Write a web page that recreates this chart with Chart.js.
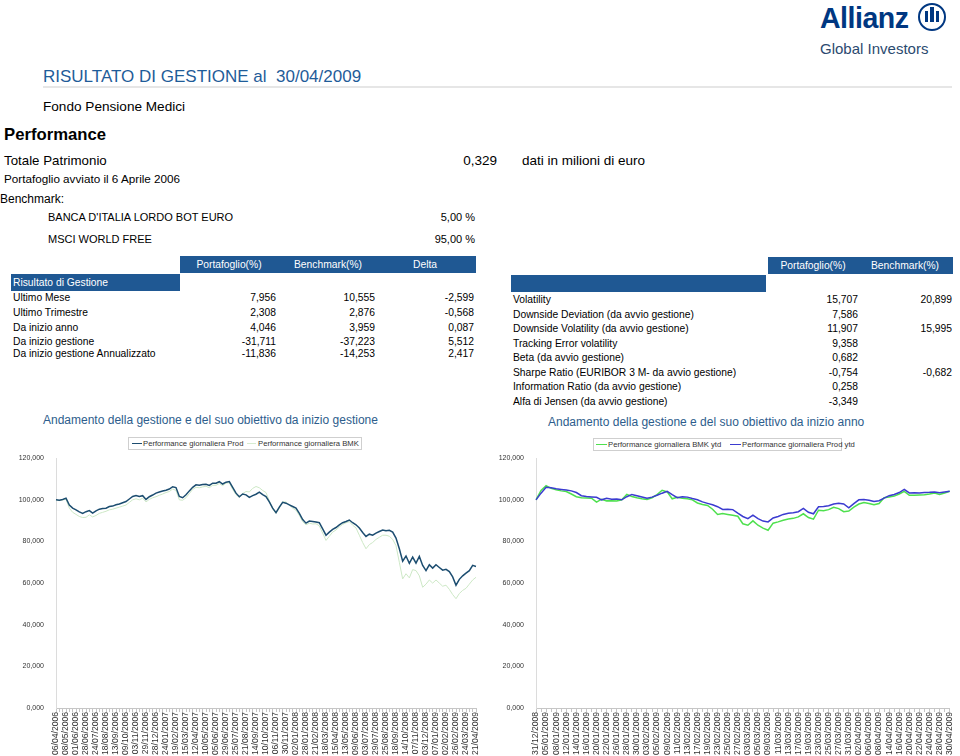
<!DOCTYPE html>
<html>
<head>
<meta charset="utf-8">
<script src="https://cdn.jsdelivr.net/npm/chart.js@4.4.1/dist/chart.umd.min.js"></script>
<style>
  html, body { margin: 0; padding: 0; background: #fff; }
  body { width: 960px; height: 756px; position: relative; overflow: hidden; font-family: "Liberation Sans", Arial, sans-serif; color: #000; }
  .t { position: absolute; white-space: nowrap; transform: translateY(-50%); line-height: 1.2; }
  .r { text-align: right; }
  .bar { position: absolute; background: #1f5893; }
  .w { color: #fff; }
  .tab { font-size: 10.3px; }
  .ttl { font-size: 12px; color: #2d5d8c; }
  .legend { position: absolute; border: 1px solid #cfcfcf; height: 11px; font-size: 7.7px; color: #333; }
  .legend span { position: absolute; top: 0; line-height: 11px; white-space: nowrap; }
  .legend i { position: absolute; top: 5px; height: 0; border-top: 1.5px solid; }
</style>
</head>
<body>

<!-- logo -->
<div class="t" style="left:820px;top:18px;font-size:30px;font-weight:bold;color:#003781;transform:translateY(-50%) scaleX(0.95);transform-origin:left center;letter-spacing:-0.5px">Allianz</div>
<div style="position:absolute;left:918px;top:3px;width:24px;height:24px;border:2.5px solid #003781;border-radius:50%"></div>
<div style="position:absolute;left:925px;top:11px;width:3px;height:11px;background:#003781"></div>
<div style="position:absolute;left:930px;top:7px;width:4px;height:15px;background:#003781"></div>
<div style="position:absolute;left:936px;top:11px;width:3px;height:11px;background:#003781"></div>
<div class="t" style="left:820px;top:49px;font-size:15px;color:#2b4a6f">Global Investors</div>

<!-- heading -->
<div class="t" style="left:43px;top:77px;font-size:17px;color:#1f5c99">RISULTATO DI GESTIONE al &nbsp;30/04/2009</div>
<div style="position:absolute;left:43px;top:86px;width:909px;height:2px;background:#e6e6e6"></div>
<div class="t" style="left:43px;top:107px;font-size:13.6px">Fondo Pensione Medici</div>
<div class="t" style="left:4px;top:135px;font-size:16.7px;font-weight:bold">Performance</div>
<div class="t" style="left:4px;top:161px;font-size:13.3px">Totale Patrimonio</div>
<div class="t r" style="right:463px;top:161px;font-size:13.5px">0,329</div>
<div class="t" style="left:522px;top:161px;font-size:13.5px">dati in milioni di euro</div>
<div class="t" style="left:4px;top:179px;font-size:11.7px">Portafoglio avviato il 6 Aprile 2006</div>
<div class="t" style="left:0px;top:199px;font-size:12px">Benchmark:</div>
<div class="t" style="left:48px;top:218px;font-size:11px">BANCA D'ITALIA LORDO BOT EURO</div>
<div class="t r" style="right:485px;top:218px;font-size:11px">5,00 %</div>
<div class="t" style="left:48px;top:240px;font-size:11px">MSCI WORLD FREE</div>
<div class="t r" style="right:485px;top:240px;font-size:11px">95,00 %</div>

<!-- left table -->
<div class="bar" style="left:180px;top:256px;width:296px;height:17px"></div>
<div class="t tab w" style="left:229px;top:265px;transform:translate(-50%,-50%)">Portafoglio(%)</div>
<div class="t tab w" style="left:328px;top:265px;transform:translate(-50%,-50%)">Benchmark(%)</div>
<div class="t tab w" style="left:425px;top:265px;transform:translate(-50%,-50%)">Delta</div>
<div class="bar" style="left:11px;top:274px;width:169px;height:17px"></div>
<div class="t tab w" style="left:13px;top:283px">Risultato di Gestione</div>

<div class="t tab" style="left:13px;top:298px">Ultimo Mese</div>
<div class="t tab r" style="right:684px;top:298px">7,956</div>
<div class="t tab r" style="right:585px;top:298px">10,555</div>
<div class="t tab r" style="right:486px;top:298px">-2,599</div>

<div class="t tab" style="left:13px;top:313px">Ultimo Trimestre</div>
<div class="t tab r" style="right:684px;top:313px">2,308</div>
<div class="t tab r" style="right:585px;top:313px">2,876</div>
<div class="t tab r" style="right:486px;top:313px">-0,568</div>

<div class="t tab" style="left:13px;top:328px">Da inizio anno</div>
<div class="t tab r" style="right:684px;top:328px">4,046</div>
<div class="t tab r" style="right:585px;top:328px">3,959</div>
<div class="t tab r" style="right:486px;top:328px">0,087</div>

<div class="t tab" style="left:13px;top:342px">Da inizio gestione</div>
<div class="t tab r" style="right:684px;top:342px">-31,711</div>
<div class="t tab r" style="right:585px;top:342px">-37,223</div>
<div class="t tab r" style="right:486px;top:342px">5,512</div>

<div class="t tab" style="left:13px;top:354px">Da inizio gestione Annualizzato</div>
<div class="t tab r" style="right:684px;top:354px">-11,836</div>
<div class="t tab r" style="right:585px;top:354px">-14,253</div>
<div class="t tab r" style="right:486px;top:354px">2,417</div>

<!-- right table -->
<div class="bar" style="left:768px;top:257px;width:185px;height:17px"></div>
<div class="t tab w" style="left:813px;top:266px;transform:translate(-50%,-50%)">Portafoglio(%)</div>
<div class="t tab w" style="left:905px;top:266px;transform:translate(-50%,-50%)">Benchmark(%)</div>
<div class="bar" style="left:511px;top:275px;width:255px;height:17px"></div>

<div class="t tab" style="left:513px;top:300px">Volatility</div>
<div class="t tab r" style="right:102px;top:300px">15,707</div>
<div class="t tab r" style="right:8px;top:300px">20,899</div>
<div class="t tab" style="left:513px;top:315px">Downside Deviation (da avvio gestione)</div>
<div class="t tab r" style="right:102px;top:315px">7,586</div>
<div class="t tab" style="left:513px;top:329px">Downside Volatility (da avvio gestione)</div>
<div class="t tab r" style="right:102px;top:329px">11,907</div>
<div class="t tab r" style="right:8px;top:329px">15,995</div>
<div class="t tab" style="left:513px;top:344px">Tracking Error volatility</div>
<div class="t tab r" style="right:102px;top:344px">9,358</div>
<div class="t tab" style="left:513px;top:358px">Beta (da avvio gestione)</div>
<div class="t tab r" style="right:102px;top:358px">0,682</div>
<div class="t tab" style="left:513px;top:373px">Sharpe Ratio (EURIBOR 3 M- da avvio gestione)</div>
<div class="t tab r" style="right:102px;top:373px">-0,754</div>
<div class="t tab r" style="right:8px;top:373px">-0,682</div>
<div class="t tab" style="left:513px;top:387px">Information Ratio (da avvio gestione)</div>
<div class="t tab r" style="right:102px;top:387px">0,258</div>
<div class="t tab" style="left:513px;top:402px">Alfa di Jensen (da avvio gestione)</div>
<div class="t tab r" style="right:102px;top:402px">-3,349</div>

<!-- chart titles and legends -->
<div class="t ttl" style="left:43px;top:420px">Andamento della gestione e del suo obiettivo da inizio gestione</div>
<div class="t ttl" style="left:548px;top:422px">Andamento della gestione e del suo obiettivo da inizio anno</div>

<div class="legend" style="left:128px;top:437px;width:232px">
  <i style="left:3px;width:10px;border-color:#1c4d70"></i><span style="left:14px">Performance giornaliera Prod</span>
  <i style="left:118px;width:9px;border-color:#d6ecd0"></i><span style="left:129px">Performance giornaliera BMK</span>
</div>
<div class="legend" style="left:593px;top:438px;width:247px">
  <i style="left:2px;width:11px;border-color:#4ee04e"></i><span style="left:14px">Performance giornaliera BMK ytd</span>
  <i style="left:136px;width:11px;border-color:#3b3bd0"></i><span style="left:148px">Performance giornaliera Prod ytd</span>
</div>

<div style="position:absolute;left:0;top:450px;width:490px;height:306px"><canvas id="chartLeft" width="490" height="306"></canvas></div>
<div style="position:absolute;left:490px;top:450px;width:470px;height:306px"><canvas id="chartRight" width="470" height="306"></canvas></div>

<script>
// Da inizio gestione: one value every ~6 trading days, 3 per date label
var leftTickDates = ["06/04/2006","08/05/2006","01/06/2006","28/06/2006","24/07/2006","18/08/2006","13/09/2006","09/10/2006","03/11/2006","29/11/2006","28/12/2006","24/01/2007","19/02/2007","15/03/2007","12/04/2007","10/05/2007","05/06/2007","29/06/2007","25/07/2007","21/08/2007","14/09/2007","10/10/2007","06/11/2007","30/11/2007","02/01/2008","28/01/2008","21/02/2008","18/03/2008","15/04/2008","13/05/2008","09/06/2008","03/07/2008","29/07/2008","25/08/2008","18/09/2008","14/10/2008","07/11/2008","03/12/2008","07/01/2009","02/02/2009","26/02/2009","24/03/2009","21/04/2009"];
var pointsPerTick = 3;

var leftProd = [
  100.0, 99.8, 100.2,  100.8, 97.5, 96.0,  95.2, 94.2, 93.5,  94.3, 94.8, 93.6,
  94.7, 95.5, 95.8,  96.0, 96.8, 97.0,  97.6, 98.0, 98.6,  99.2, 100.4, 101.6,
  102.1, 101.6, 102.0,  100.2, 101.5, 102.3,  103.2, 103.8, 104.2,  104.6, 105.2, 106.3,
  105.9, 101.6, 101.0,  102.4, 104.3, 106.0,  107.2, 107.0, 107.4,  107.5, 106.9, 108.0,
  108.0, 108.7, 107.6,  108.5, 108.8, 106.0,  103.2, 101.5, 102.8,  102.4, 101.2, 102.0,
  102.7, 103.7, 102.5,  101.6, 99.0, 96.0,  93.8, 96.5, 98.8,  98.4, 97.6, 96.8,
  96.0, 93.5, 90.5,  88.8, 89.8, 89.6,  89.3, 89.0, 86.0,  83.0, 84.5, 85.8,
  86.7, 88.0, 89.0,  89.6, 90.3, 89.0,  88.0, 86.5, 84.3,  82.4, 83.5, 83.0,
  84.0, 84.8, 85.5,  85.1, 85.4, 84.5,  81.6, 76.5, 70.5,  73.0, 69.5, 72.5,
  69.6, 72.8, 68.5,  66.0, 68.8, 67.2,  68.8, 67.5, 66.2,  66.6, 65.5, 63.0,
  59.0, 61.8, 63.5,  64.8, 66.0, 68.5,  68.0
];
var leftBmk = [
  100.0, 99.6, 100.0,  100.2, 96.0, 94.0,  93.0, 92.0, 91.5,  91.6, 92.8, 91.8,
  92.5, 93.5, 94.0,  94.5, 95.2, 95.5,  96.0, 96.5, 97.0,  97.5, 98.8, 100.0,
  100.5, 100.0, 100.8,  99.0, 100.2, 101.0,  101.5, 102.2, 102.8,  103.5, 104.0, 105.2,
  104.5, 100.0, 99.8,  101.0, 103.0, 105.0,  106.0, 105.8, 106.2,  106.5, 105.8, 107.0,
  107.0, 107.8, 106.8,  108.0, 108.2, 105.0,  102.5, 101.2, 103.0,  104.0, 103.8, 105.5,
  106.4, 105.8, 104.5,  103.5, 99.5, 95.5,  93.5, 96.0, 99.0,  99.0, 97.5, 96.0,
  95.0, 92.5, 89.5,  88.0, 88.8, 88.4,  88.5, 87.5, 84.0,  80.5, 82.5, 84.5,
  85.5, 87.0, 88.2,  89.0, 89.5, 87.8,  86.5, 83.0, 79.5,  76.5, 78.5, 79.5,
  81.0, 82.0, 83.0,  83.0, 82.5, 81.0,  78.0, 70.0, 62.0,  64.5, 62.5, 66.5,
  66.0, 63.5, 58.0,  59.5, 61.5, 60.0,  61.5, 60.0, 58.5,  59.0, 57.0, 54.5,
  52.5, 55.0, 56.5,  57.5, 59.5, 61.5,  62.8
];

// Da inizio anno: daily values, every other date labelled
var rightDates = ["31/12/2008","02/01/2009","05/01/2009","07/01/2009","08/01/2009","09/01/2009","12/01/2009","13/01/2009","14/01/2009","15/01/2009","16/01/2009","19/01/2009","20/01/2009","21/01/2009","22/01/2009","23/01/2009","26/01/2009","27/01/2009","28/01/2009","29/01/2009","30/01/2009","02/02/2009","03/02/2009","04/02/2009","05/02/2009","06/02/2009","09/02/2009","10/02/2009","11/02/2009","12/02/2009","13/02/2009","16/02/2009","17/02/2009","18/02/2009","19/02/2009","20/02/2009","23/02/2009","24/02/2009","25/02/2009","26/02/2009","27/02/2009","02/03/2009","03/03/2009","04/03/2009","05/03/2009","06/03/2009","09/03/2009","10/03/2009","11/03/2009","12/03/2009","13/03/2009","16/03/2009","17/03/2009","18/03/2009","19/03/2009","20/03/2009","23/03/2009","24/03/2009","25/03/2009","26/03/2009","27/03/2009","30/03/2009","31/03/2009","01/04/2009","02/04/2009","03/04/2009","06/04/2009","07/04/2009","08/04/2009","09/04/2009","14/04/2009","15/04/2009","16/04/2009","17/04/2009","20/04/2009","21/04/2009","22/04/2009","23/04/2009","24/04/2009","27/04/2009","28/04/2009","29/04/2009","30/04/2009"];

var rightProdYtd = [
  100.0, 103.2, 106.0, 105.8, 105.3, 105.0, 104.7, 104.3, 103.5, 102.0,
  101.6, 101.4, 101.2, 100.0, 100.8, 100.3, 100.4, 100.0, 101.5, 102.6,
  102.0, 101.4, 100.8, 101.3, 102.2, 103.2, 104.1, 102.5, 101.0, 101.5,
  101.3, 100.6, 100.0, 99.0, 98.3, 97.6, 96.7, 95.4, 95.5, 95.3,
  93.6, 92.0, 91.0, 92.6, 91.0, 89.8, 89.4, 91.3, 92.0, 93.0,
  93.6, 93.8, 94.3, 95.9, 94.0, 93.3, 96.7, 96.8, 97.2, 98.0,
  98.3, 98.0, 96.2, 98.2, 100.0, 100.2, 99.8, 99.2, 99.6, 100.8,
  102.0, 102.6, 103.5, 105.0, 103.3, 103.4, 103.3, 103.5, 103.6, 103.8,
  103.4, 103.8, 104.1
];
var rightBmkYtd = [
  100.0, 104.5, 106.8, 105.5, 104.8, 104.3, 104.0, 102.8, 101.5, 101.0,
  100.9, 100.8, 98.9, 100.3, 99.5, 99.6, 99.4, 100.0, 102.6, 101.6,
  101.0, 100.5, 100.2, 101.0, 102.5, 104.6, 103.8, 100.5, 101.2, 100.8,
  100.5, 100.0, 98.5, 97.8, 97.3, 95.5, 93.0, 93.4, 93.0, 92.6,
  92.1, 88.5, 87.8, 89.9, 87.8, 86.4, 85.4, 88.8, 89.4, 90.2,
  90.8, 91.1, 91.8, 93.3, 91.5, 90.7, 95.0, 94.8, 95.3, 96.4,
  95.8, 94.3, 94.6, 96.5, 98.0, 98.7, 98.2, 97.6, 98.2, 101.0,
  101.4, 101.8, 102.8, 104.1, 102.2, 102.2, 102.3, 102.4, 102.8, 103.3,
  102.6, 103.3, 104.1
];

var leftLabels = leftProd.map(function (v, i) {
  return i % pointsPerTick === 0 ? leftTickDates[i / pointsPerTick] : '';
});

function itNum(v) { return v.toFixed(3).replace('.', ','); }

function lineOptions(yWidth, padRight, tickEvery) {
  return {
    responsive: false,
    animation: false,
    layout: { padding: { top: 6, right: padRight, left: 0, bottom: 0 } },
    plugins: { legend: { display: false }, tooltip: { enabled: false } },
    scales: {
      x: {
        grid: { drawOnChartArea: false, tickLength: 4, color: '#c6c6c6' },
        border: { color: '#c6c6c6' },
        ticks: {
          autoSkip: false, maxRotation: 90, minRotation: 90, padding: 0,
          font: { size: 8.6, family: 'Liberation Sans' }, color: '#333',
          callback: function (v, i) { return i % tickEvery === 0 ? this.getLabelForValue(v) : ''; }
        },
        afterFit: function (s) { s.height = 48; }
      },
      y: {
        min: 0, max: 120,
        grid: { display: false },
        border: { color: '#dcdcdc' },
        ticks: { stepSize: 20, padding: 4, font: { size: 7, family: 'Liberation Sans' }, color: '#333', callback: itNum },
        afterFit: function (s) { s.width = yWidth; }
      }
    }
  };
}

new Chart(document.getElementById('chartLeft'), {
  type: 'line',
  data: {
    labels: leftLabels,
    datasets: [
      { label: 'Performance giornaliera Prod', data: leftProd, borderColor: '#1c4d70', borderWidth: 1.5, pointRadius: 0 },
      { label: 'Performance giornaliera BMK', data: leftBmk, borderColor: '#cde8c6', borderWidth: 1, pointRadius: 0 }
    ]
  },
  options: lineOptions(56, 14, 1)
});

new Chart(document.getElementById('chartRight'), {
  type: 'line',
  data: {
    labels: rightDates,
    datasets: [
      { label: 'Performance giornaliera Prod ytd', data: rightProdYtd, borderColor: '#3b3bd0', borderWidth: 1.5, pointRadius: 0 },
      { label: 'Performance giornaliera BMK ytd', data: rightBmkYtd, borderColor: '#4ee04e', borderWidth: 1.5, pointRadius: 0 }
    ]
  },
  options: lineOptions(46, 9, 2)
});
</script>
</body>
</html>
